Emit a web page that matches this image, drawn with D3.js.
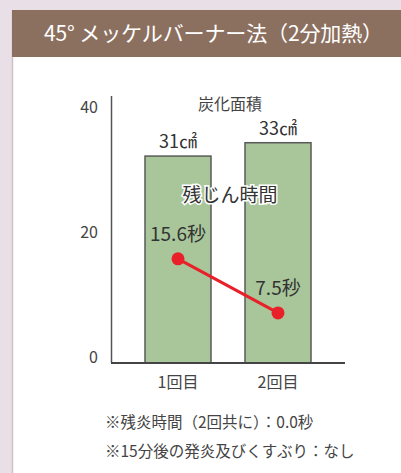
<!DOCTYPE html>
<html>
<head>
<meta charset="utf-8">
<script src="https://cdn.jsdelivr.net/npm/d3@7"></script>
<style>
  body { margin: 0; background: #e9dfe6; }
  svg text { font-family: "Noto Sans CJK JP", "Noto Sans", sans-serif; }
</style>
</head>
<body>
<div id="chart"></div>
<script>
// data
const rounds = ["1回目", "2回目"];
const areaValues = [31, 33];          // 炭化面積 (cm2)
const areaLabels = ["31㎠", "33㎠"];
const afterglow = [15.6, 7.5];        // 残じん時間 (秒)
const afterglowLabels = ["15.6秒", "7.5秒"];
const yTicks = [0, 20, 40];
const notes = ["※残炎時間（2回共に）：0.0秒", "※15分後の発炎及びくすぶり：なし"];
const title = "45° メッケルバーナー法（2分加熱）";

const width = 401, height = 473;
const colorBar = "#a9c69b";
const colorLine = "#e8202a";

let svg = d3.select('#chart').append('svg')
  .attr('width', width)
  .attr('height', height);

// panel + header
svg.append('rect').attr('x', 12).attr('y', 10).attr('width', width).attr('height', height)
  .attr('fill', '#fff');
svg.append('line').attr('x1', 12.5).attr('x2', 12.5).attr('y1', 10).attr('y2', height)
  .attr('stroke', '#d3bfc7').attr('stroke-width', 1.5);
svg.append('rect').attr('x', 12).attr('y', 10).attr('width', width).attr('height', 47)
  .attr('fill', '#8c705f');
svg.append('text').attr('x', 44).attr('y', 41)
  .attr('fill', '#fff').style('font-size', '21px')
  .attr('textLength', 339).attr('lengthAdjust', 'spacing')
  .text(title);

// scales
const y = d3.scaleLinear().domain([0, 40]).range([363, 96]);
const yLabel = d3.scaleLinear().domain([0, 40]).range([357, 107]);
const x = d3.scaleBand().domain(rounds).range([128, 328])
  .paddingInner(0.34).paddingOuter(0.17);

// bars
svg.append('g').selectAll('rect')
  .data(areaValues)
  .enter().append('rect')
  .attr('x', (d, i) => x(rounds[i]))
  .attr('y', d => y(d))
  .attr('width', x.bandwidth())
  .attr('height', d => y(0) - y(d))
  .attr('fill', colorBar)
  .attr('stroke', '#5a5a5a')
  .attr('stroke-width', 1.5);

// axes
svg.append('line').attr('x1', 111.5).attr('x2', 111.5).attr('y1', y(40)).attr('y2', y(0))
  .attr('stroke', '#555').attr('stroke-width', 1.5);
svg.append('line').attr('x1', 111).attr('x2', 345).attr('y1', y(0)).attr('y2', y(0))
  .attr('stroke', '#444').attr('stroke-width', 2);

svg.append('g').selectAll('text')
  .data(yTicks)
  .enter().append('text')
  .attr('x', 98)
  .attr('y', d => yLabel(d))
  .attr('dy', '0.35em')
  .attr('text-anchor', 'end')
  .attr('fill', '#444')
  .style('font-size', '16px')
  .text(d => d);

svg.append('g').selectAll('text')
  .data(rounds)
  .enter().append('text')
  .attr('x', d => x(d) + x.bandwidth() / 2)
  .attr('y', 382)
  .attr('dy', '0.35em')
  .attr('text-anchor', 'middle')
  .attr('fill', '#444')
  .style('font-size', '16px')
  .text(d => d);

// bar labels
svg.append('text').attr('x', 230).attr('y', 104).attr('dy', '0.35em')
  .attr('text-anchor', 'middle').attr('fill', '#444').style('font-size', '16px')
  .text('炭化面積');

svg.append('g').selectAll('text')
  .data(areaLabels)
  .enter().append('text')
  .attr('x', (d, i) => x(rounds[i]) + x.bandwidth() / 2)
  .attr('y', (d, i) => y(areaValues[i]) - 14)
  .attr('dy', '0.35em')
  .attr('text-anchor', 'middle')
  .attr('fill', '#333')
  .style('font-size', '18px')
  .text(d => d);

// line series
const line = d3.line()
  .x((d, i) => x(rounds[i]) + x.bandwidth() / 2)
  .y(d => y(d));

svg.append('path')
  .datum(afterglow)
  .attr('d', line)
  .attr('fill', 'none')
  .attr('stroke', colorLine)
  .attr('stroke-width', 3);

svg.append('g').selectAll('circle')
  .data(afterglow)
  .enter().append('circle')
  .attr('cx', (d, i) => x(rounds[i]) + x.bandwidth() / 2)
  .attr('cy', d => y(d))
  .attr('r', 6.5)
  .attr('fill', colorLine);

svg.append('g').selectAll('text')
  .data(afterglowLabels)
  .enter().append('text')
  .attr('x', (d, i) => x(rounds[i]) + x.bandwidth() / 2)
  .attr('y', (d, i) => y(afterglow[i]) - 25)
  .attr('dy', '0.35em')
  .attr('text-anchor', 'middle')
  .attr('fill', '#333')
  .style('font-size', '19px')
  .text(d => d);

svg.append('text').attr('x', 230).attr('y', 195).attr('dy', '0.35em')
  .attr('text-anchor', 'middle').attr('fill', '#333').style('font-size', '19px')
  .attr('stroke', '#fff').attr('stroke-width', 3).attr('paint-order', 'stroke')
  .text('残じん時間');

// notes
svg.append('g').selectAll('text')
  .data(notes)
  .enter().append('text')
  .attr('x', 105)
  .attr('y', (d, i) => 423 + i * 29)
  .attr('dy', '0.35em')
  .attr('fill', '#444')
  .style('font-size', '15.5px')
  .text(d => d);
</script>
</body>
</html>
